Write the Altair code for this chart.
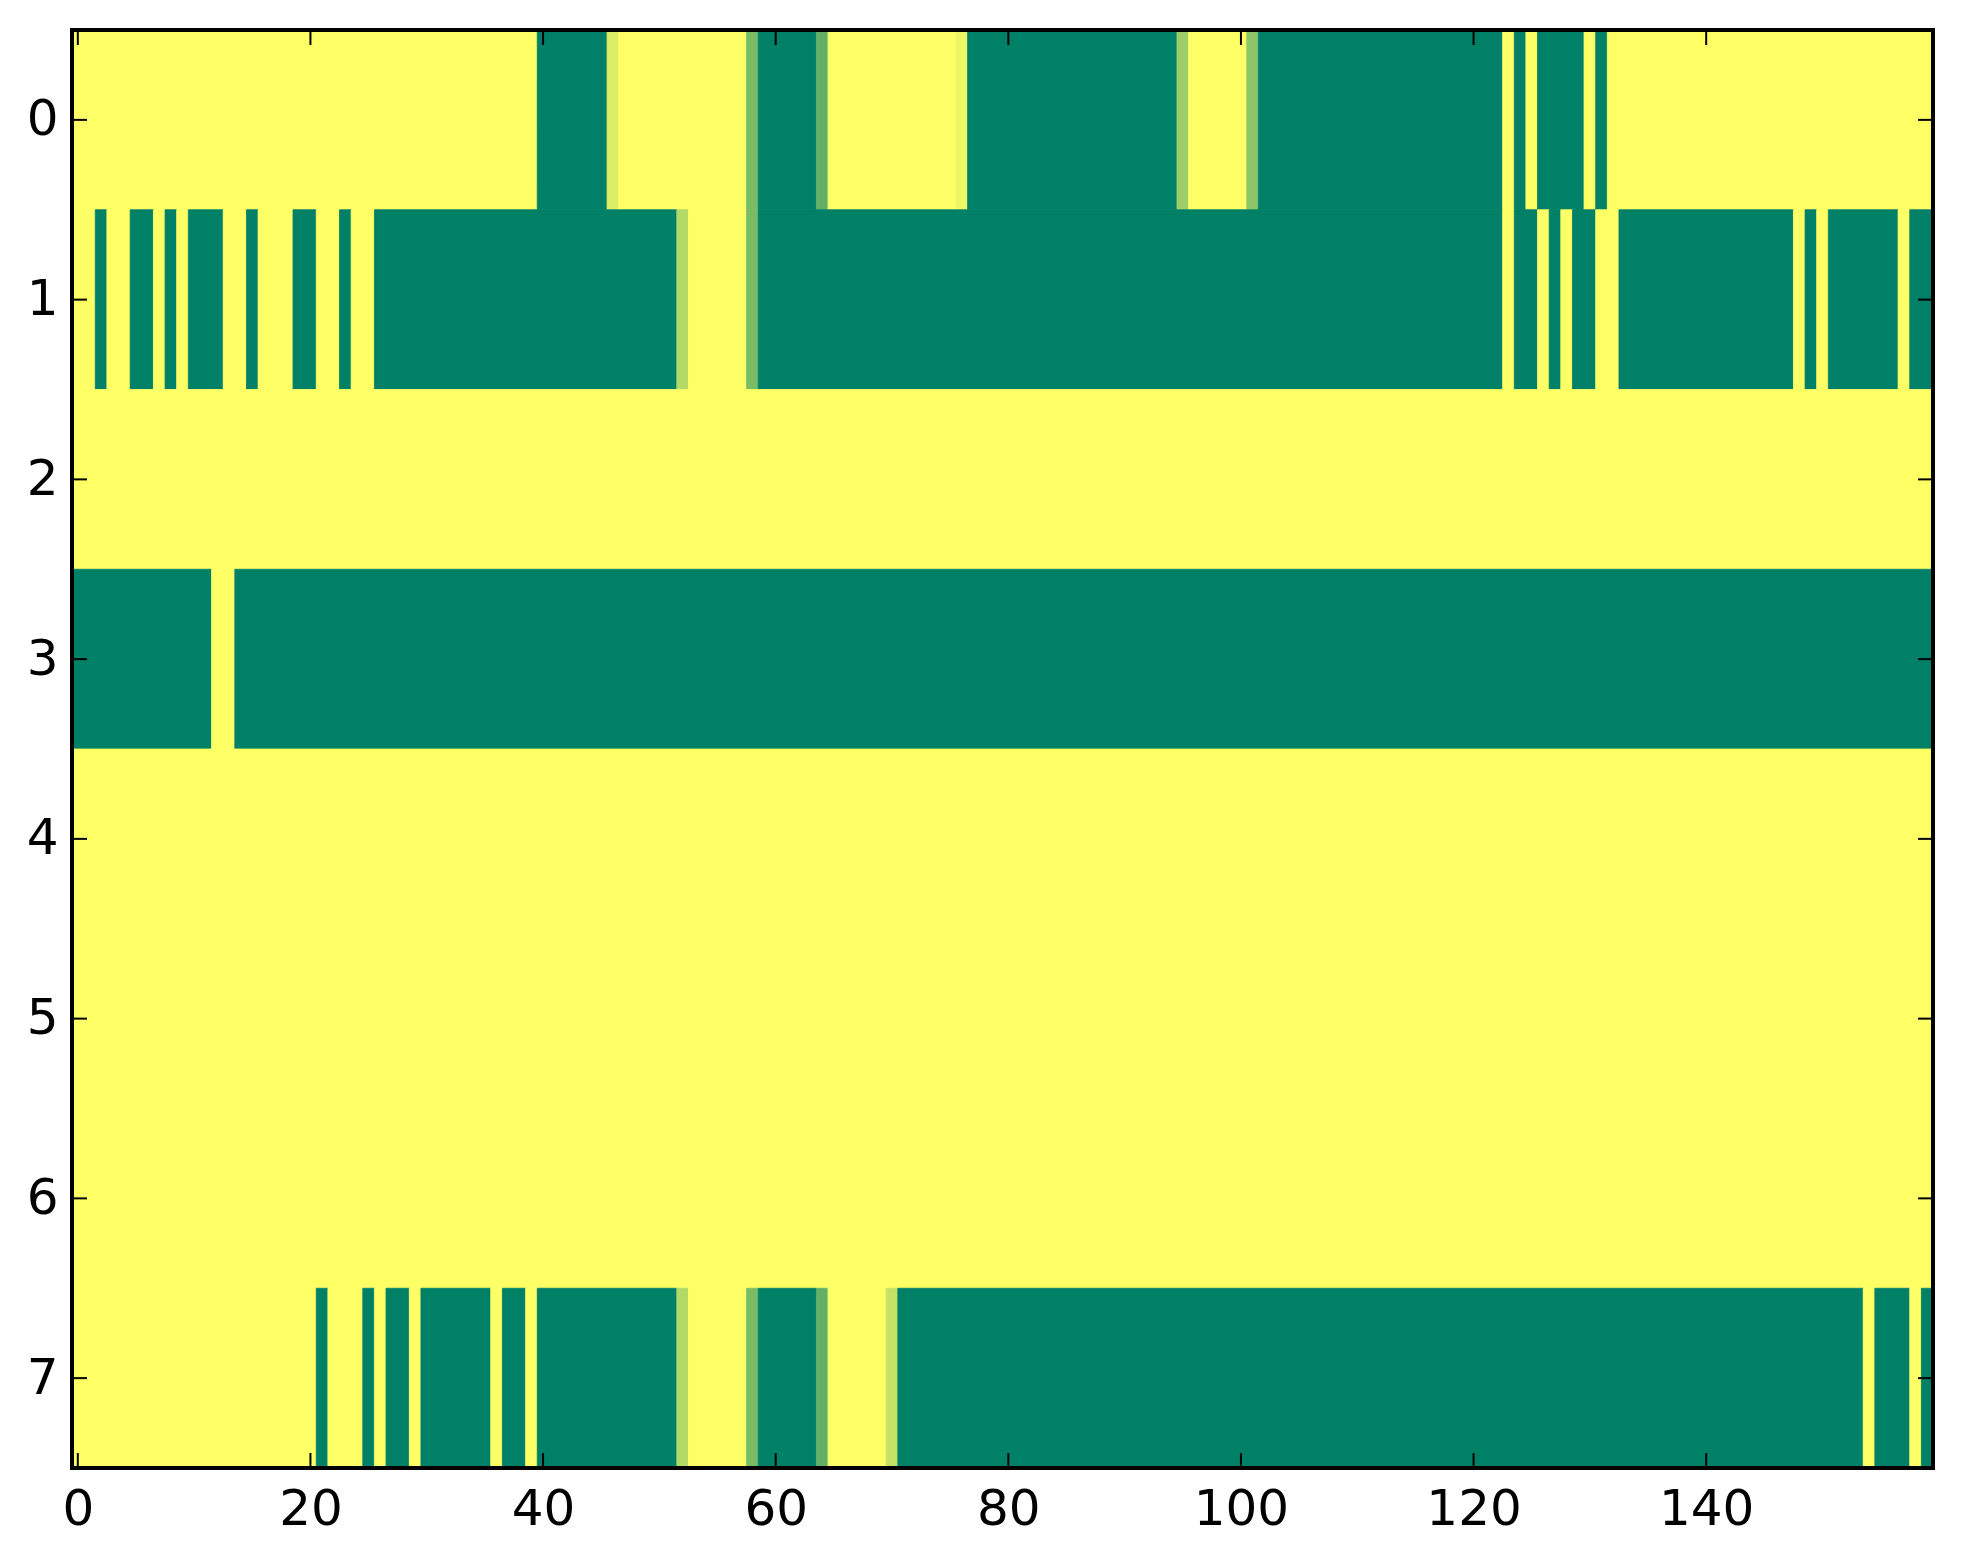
import altair as alt
import pandas as pd

# Each row of the image as runs of (first column, last column, value)
row0 = [(0, 39, 1.0), (40, 45, 0.0), (46, 46, 0.86), (47, 57, 1.0), (58, 58, 0.47),
        (59, 63, 0.0), (64, 64, 0.38), (65, 75, 1.0), (76, 76, 0.93), (77, 94, 0.0),
        (95, 95, 0.62), (96, 100, 1.0), (101, 101, 0.55), (102, 122, 0.0), (123, 123, 1.0),
        (124, 124, 0.0), (125, 125, 1.0), (126, 129, 0.0), (130, 130, 1.0), (131, 131, 0.0),
        (132, 159, 1.0)]
row1 = [(0, 1, 1.0), (2, 2, 0.0), (3, 4, 1.0), (5, 6, 0.0), (7, 7, 1.0), (8, 8, 0.0),
        (9, 9, 1.0), (10, 12, 0.0), (13, 14, 1.0), (15, 15, 0.0), (16, 18, 1.0),
        (19, 20, 0.0), (21, 22, 1.0), (23, 23, 0.0), (24, 25, 1.0), (26, 51, 0.0),
        (52, 52, 0.70), (53, 57, 1.0), (58, 58, 0.47), (59, 122, 0.0), (123, 123, 1.0),
        (124, 125, 0.0), (126, 126, 1.0), (127, 127, 0.0), (128, 128, 1.0), (129, 130, 0.0),
        (131, 132, 1.0), (133, 147, 0.0), (148, 148, 1.0), (149, 149, 0.0), (150, 150, 1.0),
        (151, 156, 0.0), (157, 157, 1.0), (158, 159, 0.0)]
row2 = [(0, 159, 1.0)]
row3 = [(0, 11, 0.0), (12, 13, 1.0), (14, 159, 0.0)]
row4 = [(0, 159, 1.0)]
row5 = [(0, 159, 1.0)]
row6 = [(0, 159, 1.0)]
row7 = [(0, 20, 1.0), (21, 21, 0.0), (22, 24, 1.0), (25, 25, 0.0), (26, 26, 1.0),
        (27, 28, 0.0), (29, 29, 1.0), (30, 35, 0.0), (36, 36, 1.0), (37, 38, 0.0),
        (39, 39, 1.0), (40, 51, 0.0), (52, 52, 0.70), (53, 57, 1.0), (58, 58, 0.47),
        (59, 63, 0.0), (64, 64, 0.38), (65, 69, 1.0), (70, 70, 0.77), (71, 153, 0.0),
        (154, 154, 1.0), (155, 157, 0.0), (158, 158, 1.0), (159, 159, 0.0)]

rows = [row0, row1, row2, row3, row4, row5, row6, row7]
x_ticks = [0, 20, 40, 60, 80, 100, 120, 140]
y_ticks = [0, 1, 2, 3, 4, 5, 6, 7]

recs = []
for r, segs in enumerate(rows):
    for a, b, v in segs:
        recs.append({"c0": a - 0.5, "c1": b + 0.5, "r0": r - 0.5, "r1": r + 0.5, "v": v})
cells = pd.DataFrame(recs)

W, H = 1861, 1438
FONT = "DejaVu Sans"

xscale = alt.Scale(domain=[-0.5, 159.5], nice=False, zero=False)
yscale = alt.Scale(domain=[-0.5, 7.5], nice=False, zero=False, reverse=True)
cscale = alt.Scale(domain=[0, 1], range=["#008066", "#ffff66"], interpolate="rgb")

heat = alt.Chart(cells).mark_rect(strokeWidth=0.8).encode(
    x=alt.X("c0:Q", scale=xscale,
            axis=alt.Axis(values=x_ticks, ticks=False, domain=False, grid=False,
                          labelFontSize=50, labelFont=FONT, labelColor="black",
                          labelPadding=16, title=None, format="d")),
    x2="c1:Q",
    y=alt.Y("r0:Q", scale=yscale,
            axis=alt.Axis(values=y_ticks, ticks=False, domain=False, grid=False,
                          labelFontSize=50, labelFont=FONT, labelColor="black",
                          labelPadding=14, title=None, format="d")),
    y2="r1:Q",
    fill=alt.Fill("v:Q", scale=cscale, legend=None),
    stroke=alt.Stroke("v:Q", scale=cscale, legend=None),
)

xt = pd.DataFrame({"t": x_ticks})
yt = pd.DataFrame({"t": y_ticks})
TL = 15
TW = 2

xb = alt.Chart(xt).mark_rule(color="black", strokeWidth=TW).encode(
    x=alt.X("t:Q", scale=xscale), y=alt.value(H), y2=alt.value(H - TL))
xtop = alt.Chart(xt).mark_rule(color="black", strokeWidth=TW).encode(
    x=alt.X("t:Q", scale=xscale), y=alt.value(0), y2=alt.value(TL))
yl = alt.Chart(yt).mark_rule(color="black", strokeWidth=TW).encode(
    y=alt.Y("t:Q", scale=yscale), x=alt.value(0), x2=alt.value(TL))
yr = alt.Chart(yt).mark_rule(color="black", strokeWidth=TW).encode(
    y=alt.Y("t:Q", scale=yscale), x=alt.value(W), x2=alt.value(W - TL))

frame = alt.Chart(pd.DataFrame({"a": [0]})).mark_rect(
    filled=False, stroke="black", strokeWidth=4).encode(
    x=alt.value(0), x2=alt.value(W), y=alt.value(0), y2=alt.value(H))

chart = alt.layer(heat, xb, xtop, yl, yr, frame).properties(
    width=W, height=H,
    autosize=alt.AutoSizeParams(type="none"),
    padding={"left": 64, "top": 22, "right": 22, "bottom": 88},
).configure_view(stroke=None).configure(background="white")

chart.save("out.html", embed_options={"renderer": "svg", "actions": False})
